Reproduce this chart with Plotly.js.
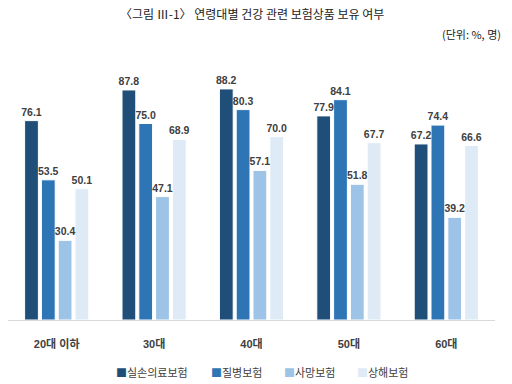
<!DOCTYPE html>
<html><head><meta charset="utf-8">
<script src="https://cdn.plot.ly/plotly-3.0.1.min.js"></script>
<style>html,body{margin:0;padding:0;background:#fff}#c{width:512px;height:384px}</style>
</head><body><div id="c"></div>
<script>
const categories = ['20대 이하','30대','40대','50대','60대'];
const seriesNames = ['실손의료보험','질병보험','사망보험','상해보험'];
const silson = [76.1, 87.8, 88.2, 77.9, 67.2];
const jilbyeong = [53.5, 75.0, 80.3, 84.1, 74.4];
const samang = [30.4, 47.1, 57.1, 51.8, 39.2];
const sanghae = [50.1, 68.9, 70.0, 67.7, 66.6];
const colors = ['#1F4E79','#2E75B6','#9DC3E6','#DEEBF7'];
const values = [silson, jilbyeong, samang, sanghae];
const FONT = '"Liberation Sans", "Noto Sans CJK KR", sans-serif';
const bars = values.map((v,i)=>({
  type:'bar', name: seriesNames[i], x: categories, y: v, offsetgroup: 'g'+i,
  marker:{color: colors[i], line:{color:'#ffffff', width:1}},
  hoverinfo:'none', showlegend:false
}));
const labels = values.map((v,i)=>({
  type:'bar', name: seriesNames[i]+' 값', x: categories, y: v, offsetgroup: 'g'+i,
  marker:{color:'rgba(0,0,0,0)', line:{width:0}},
  text: v.map(d=>d.toFixed(1)), textposition:'outside', constraintext:'none',
  textfont:{family:FONT, size:10.5, color:'#404040', weight:'bold'},
  cliponaxis:false, hoverinfo:'none', showlegend:false
}));
const legendX = [0.295, 0.470, 0.620, 0.770];
const legendAnn = seriesNames.map((n,i)=>({
  text:'<span style="color:'+colors[i]+'">■</span>'+n, xref:'paper', yref:'paper',
  x:legendX[i], y:-0.198, xanchor:'center', yanchor:'middle', showarrow:false,
  font:{family:'"Noto Sans CJK KR", sans-serif', size:11, color:'#404040'}
}));
const layout = {
  width:512, height:384,
  margin:{l:8, r:17, t:58, b:64},
  paper_bgcolor:'#fff', plot_bgcolor:'#fff',
  barmode:'group', bargap:0.31, bargroupgap:0.18,
  font:{family:FONT, color:'#404040'},
  xaxis:{showline:true, linecolor:'#d9d9d9', linewidth:1, ticks:'', ticklabelstandoff:14,
    tickfont:{family:FONT, size:11, color:'#404040', weight:'bold'}, fixedrange:true},
  yaxis:{range:[0,100], showticklabels:false, showgrid:false, zeroline:false, showline:false},
  showlegend:false,
  annotations:[
    {text:'〈그림 Ⅲ-1〉 연령대별 건강 관련 보험상품 보유 여부', xref:'paper', yref:'paper', x:0.5, y:1.168,
     xanchor:'center', yanchor:'middle', showarrow:false, font:{family:'"Noto Sans CJK KR", sans-serif', size:12, color:'#222'}},
    {text:'(단위: %, 명)', xref:'paper', yref:'paper', x:1.016, y:1.092,
     xanchor:'right', yanchor:'middle', showarrow:false, font:{family:'"Noto Sans CJK KR", sans-serif', size:11, color:'#222'}}
  ].concat(legendAnn)
};
Plotly.newPlot('c', bars.concat(labels), layout, {displayModeBar:false, staticPlot:true});
</script></body></html>
